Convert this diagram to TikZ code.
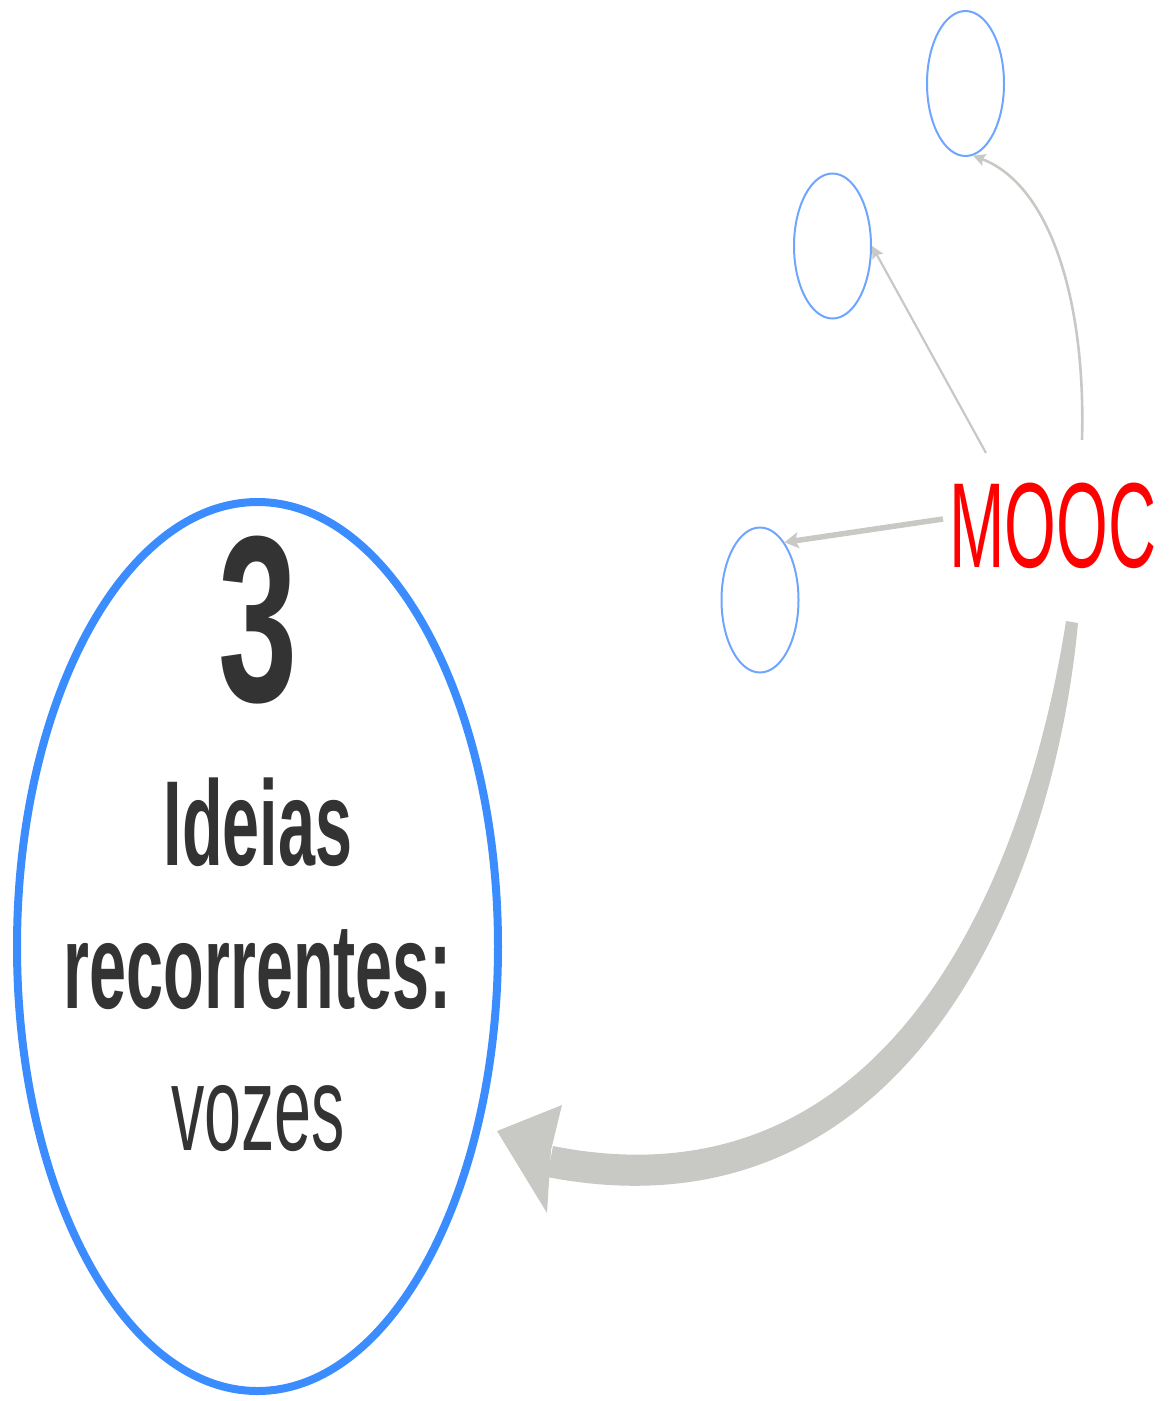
\documentclass[tikz,border=0pt]{standalone}
\usepackage{fontspec}
\setmainfont{Liberation Sans}
\usetikzlibrary{arrows.meta,shapes.geometric}
\definecolor{bigblue}{RGB}{58,140,255}
\definecolor{smallblue}{RGB}{110,165,255}
\definecolor{arrgray}{RGB}{200,201,197}
\definecolor{txtgray}{RGB}{51,51,51}
\definecolor{moocred}{RGB}{255,0,0}
\begin{document}
\begin{tikzpicture}[x=1pt,y=-1pt,
  bubble/.style={ellipse, draw=smallblue, line width=2pt, minimum width=77pt, minimum height=145pt, inner sep=0pt},
  link/.style={draw=arrgray, -{Stealth[length=12pt,width=12pt,inset=2pt]}},
  lbl/.style={inner sep=0pt, anchor=base, text=txtgray}]
\useasboundingbox (0,0) rectangle (1171,1401);
% big circle
\node[ellipse, draw=bigblue, line width=8pt, minimum width=481pt, minimum height=889pt, inner sep=0pt] (big) at (257.5,946.5) {};
% small bubbles
\node[bubble] (c1) at (965.5,83.5) {};
\node[bubble] (c2) at (832.5,246) {};
\node[bubble] (c3) at (760,600) {};
% texts
\node[lbl] (t3) at (258,701) {\fontsize{237}{240}\selectfont\bfseries\scalebox{0.6}[1]{3}};
\node[lbl] (tid) at (258,865) {\fontsize{121}{143}\selectfont\bfseries\scalebox{0.55}[1]{Ideias}};
\node[lbl] (trec) at (258,1008) {\fontsize{121}{143}\selectfont\bfseries\scalebox{0.55}[1]{recorrentes:}};
\node[lbl] (tvoz) at (258,1150) {\fontsize{121}{143}\selectfont\scalebox{0.55}[1]{vozes}};
\node[inner sep=0pt, anchor=base, text=moocred] (mooc) at (1053,567) {\fontsize{121}{143}\selectfont\scalebox{0.55}[1]{MOOC}};
% connectors from MOOC
\coordinate (m3) at (943,519);
\coordinate (m2) at (986,453);
\coordinate (m1) at (1082,440);
\draw[link, line width=5.5pt, -{Stealth[length=14pt,width=16pt,inset=3pt]}] (m3) -- (c3.67);
\draw[link, line width=2.2pt] (m2) -- (c2.east);
\draw[link, line width=2.6pt] (m1) .. controls (1086,300) and (1050,185) .. (c1.-84);
% big curved arrow from MOOC to the big circle
\coordinate (bs) at (1072,622);
\coordinate (btip) at (497,1131);
\fill[arrgray] (1078,623) .. controls (1054,883) and (910,1247) .. (547,1177)
  -- (553,1146) .. controls (890,1213) and (1026,877) .. (1066,621) -- cycle;
\fill[arrgray] (btip) -- (562,1105) -- (551,1150) -- (547,1213) -- cycle;
\end{tikzpicture}
\end{document}
